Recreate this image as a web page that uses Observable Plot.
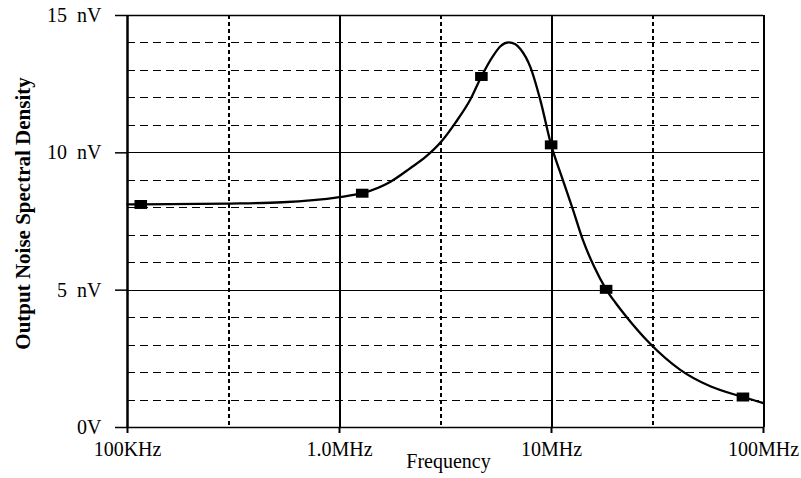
<!DOCTYPE html>
<html>
<head>
<meta charset="utf-8">
<script src="https://cdn.jsdelivr.net/npm/d3@7"></script>
<script src="https://cdn.jsdelivr.net/npm/@observablehq/plot@0.6"></script>
<style>
  html, body { margin: 0; padding: 0; background: #fff; }
</style>
</head>
<body>
<script>
// Curve samples (frequency in Hz, noise in nV/√Hz)
const freqs = [1.0e5, 1.155e5, 3.0e5, 5.38e5, 1.0e6, 1.28e6, 1.741e6, 2.164e6, 2.546e6, 3.03e6,
               3.525e6, 4.147e6, 4.67e6, 5.324e6, 5.743e6, 6.28e6, 6.76e6, 7.13e6, 7.96e6, 8.87e6,
               9.96e6, 1.12e7, 1.26e7, 1.41e7, 1.59e7, 1.81e7, 2.0e7, 2.23e7, 2.92e7, 4.05e7,
               5.61e7, 8.0e7, 1.0e8];
const values = [8.12, 8.12, 8.15, 8.2, 8.39, 8.53, 8.95, 9.45, 9.85, 10.42,
                11.1, 11.95, 12.78, 13.55, 13.88, 14.02, 13.95, 13.78, 13.11, 11.9,
                10.29, 9.11, 7.95, 6.8, 5.85, 5.03, 4.55, 4.08, 3.05, 2.1,
                1.5, 1.11, 0.89];

// Square markers on the trace
const markerFreqs = [1.155e5, 1.28e6, 4.67e6, 9.96e6, 1.81e7, 8.0e7];
const markerValues = [8.12, 8.53, 12.78, 10.29, 5.03, 1.11];

// Ticks
const xTicks = [1e5, 1e6, 1e7, 1e8];
const xTickLabels = ["100KHz", "1.0MHz", "10MHz", "100MHz"];
const xMinorTicks = [3e5, 3e6, 3e7];
const yTicks = [0, 5, 10, 15];
const yTickLabels = ["0V", "5  nV", "10  nV", "15  nV"];
const yMinorTicks = [1, 2, 3, 4, 6, 7, 8, 9, 11, 12, 13, 14];

const xTitle = "Frequency";
const yTitle = "Output Noise Spectral Density";

const curve = freqs.map((f, i) => ({f, v: values[i]}));
const markers = markerFreqs.map((f, i) => ({f, v: markerValues[i]}));

const rectSymbol = {
  draw(ctx, size) {
    const h = Math.sqrt(size / 1.4);
    const w = h * 1.4;
    ctx.rect(-w / 2, -h / 2, w, h);
  }
};

const font = "'Liberation Serif', 'Times New Roman', serif";
const crisp = "crispEdges";

const chart = Plot.plot({
  width: 801,
  height: 478,
  marginLeft: 127,
  marginRight: 38,
  marginTop: 15,
  marginBottom: 51,
  x: {type: "log", domain: [1e5, 1e8]},
  y: {domain: [0, 15]},
  style: {fontFamily: font, fontSize: "20px", background: "#fff", color: "#000"},
  marks: [
    Plot.ruleY(yMinorTicks, {stroke: "#000", strokeWidth: 1, strokeDasharray: "8,5", shapeRendering: crisp}),
    Plot.ruleX(xMinorTicks, {stroke: "#000", strokeWidth: 2, strokeDasharray: "4,3", shapeRendering: crisp}),
    Plot.ruleY([5, 10], {stroke: "#000", strokeWidth: 1, shapeRendering: crisp}),
    Plot.ruleY([0, 15], {stroke: "#000", strokeWidth: 1.5}),
    Plot.ruleX([1e6, 1e7], {stroke: "#000", strokeWidth: 2, shapeRendering: crisp}),
    Plot.ruleX([1e5], {stroke: "#000", strokeWidth: 2.5}),
    Plot.ruleX([1e8], {stroke: "#000", strokeWidth: 2, shapeRendering: crisp}),
    Plot.axisX(xTicks, {
      tickSize: 6, tickPadding: 8, fontSize: 20, strokeWidth: 2, stroke: "#000", fill: "#000",
      tickFormat: d => xTickLabels[xTicks.indexOf(d)], label: null
    }),
    Plot.axisY(yTicks, {
      tickSize: 12, tickPadding: 14, fontSize: 20, strokeWidth: 1.5, stroke: "#000", fill: "#000",
      tickFormat: d => yTickLabels[yTicks.indexOf(d)].replace(/ /g, "\u00a0"), label: null
    }),
    Plot.line(curve, {x: "f", y: "v", curve: "monotone-x", stroke: "#000", strokeWidth: 2.3}),
    Plot.dot(markers, {x: "f", y: "v", symbol: rectSymbol, r: 6, fill: "#000", stroke: "none"}),
    Plot.text([xTitle], {text: d => d, frameAnchor: "bottom", dy: 40, dx: 3, fontSize: 20, fill: "#000"}),
    Plot.text([yTitle], {text: d => d, frameAnchor: "left", textAnchor: "middle", rotate: -90,
                         dx: -104, dy: -8, fontSize: 21, fontWeight: "bold", fill: "#000"})
  ]
});

document.body.appendChild(chart);
</script>
</body>
</html>
